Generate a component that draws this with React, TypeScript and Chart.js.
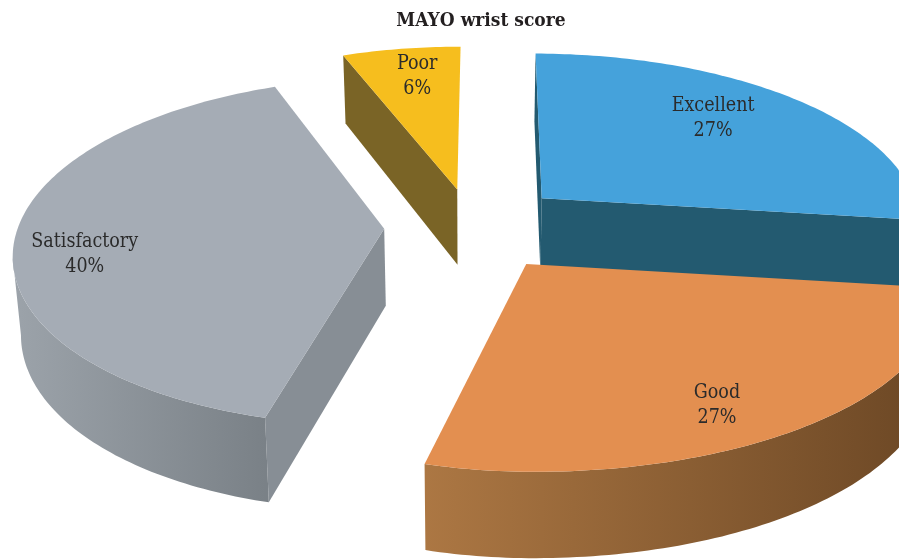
import React, { useEffect, useRef } from "react";
import { Chart, registerables } from "chart.js";

Chart.register(...registerables);

// Wrist score distribution, in percent
const categories = ["Excellent", "Good", "Satisfactory", "Poor"];
const shares = [27, 27, 40, 6];
const topColors = ["#45A2DB", "#E38F50", "#A5ACB5", "#F6BE1E"];
const wallColors = ["#235A70", "#7A5229", "#878E95", "#7A6426"];
const rimColorsLeft = ["#235A70", "#AC7743", "#9CA3AA", "#7A6426"];
const rimColorsRight = ["#235A70", "#6A4624", "#7A8187", "#7A6426"];
const explodeOffsets = [42, 42, 39, 37];
const eastStretch = [1.04, 1.09, 1, 1];
const labelReach = [0.74, 0.84, 0.81, 0.78];
const labelSweep = [0.46, 0.52, 0.45, 0.55];

const serifStack = "'DejaVu Serif Condensed', 'DejaVu Serif', serif";

// Homography of the pie plane: the far side of the disc shrinks, the near side grows.
const VIEW = { scale: 366, squash: 0.465, perspective: 0.13, depth: 77, depthFalloff: 0.1, shrink: 0.982, panX: -9 };

type Pt = { x: number; y: number };

const tiltedPie = {
  id: "tiltedPie",
  beforeDatasetDraw(chart: any) {
    const ctx: CanvasRenderingContext2D = chart.ctx;
    const arcs = chart.getDatasetMeta(0).data as any[];
    if (!arcs.length) return false;
    const cx = arcs[0].x + VIEW.panX;
    const cy = arcs[0].y;

    const top = (u: number, v: number): Pt => {
      const w = 1 + VIEW.perspective * v;
      return { x: cx + (VIEW.scale * u) / w, y: cy - (VIEW.scale * VIEW.squash * v) / w };
    };
    const bottom = (u: number, v: number): Pt => {
      const p = top(u, v);
      return {
        x: cx + (p.x - cx) * VIEW.shrink,
        y: p.y + VIEW.depth * (1 - VIEW.depthFalloff * v),
      };
    };

    const slices = arcs.map((arc, index) => {
      const R = arc.outerRadius;
      const span = arc.endAngle - arc.startAngle;
      const mid = arc.startAngle + span / 2;
      const shift = (arc.options.offset || 0) / R;
      const ax = Math.cos(mid) * shift;
      const ay = -Math.sin(mid) * shift;
      const steps = Math.max(24, Math.round((span * 180) / Math.PI));
      const rim: [number, number][] = [];
      for (let i = 0; i <= steps; i++) {
        const a = arc.startAngle + (span * i) / steps;
        const c = Math.cos(a);
        rim.push([ax + c * (c > 0 ? eastStretch[index] : 1), ay - Math.sin(a)]);
      }
      return { index, arc, ax, ay, span, rim };
    });

    const trace = (pts: Pt[]) => {
      ctx.beginPath();
      pts.forEach((p, i) => (i ? ctx.lineTo(p.x, p.y) : ctx.moveTo(p.x, p.y)));
      ctx.closePath();
    };

    // Paint from the far slice to the near one
    const order = [...slices].sort((a, b) => top(a.ax, a.ay).y - top(b.ax, b.ay).y);
    ctx.save();
    for (const s of order) {
      const first = s.rim[0];
      const last = s.rim[s.rim.length - 1];
      const wall = (p: [number, number], q: [number, number]) => {
        const a = top(p[0], p[1]);
        const b = top(q[0], q[1]);
        // The traversal runs clockwise on screen, so an edge heading left faces the viewer;
        // walls seen almost edge-on are skipped
        if (b.x >= a.x - 4) return;
        ctx.fillStyle = wallColors[s.index];
        trace([a, b, bottom(q[0], q[1]), bottom(p[0], p[1])]);
        ctx.fill();
      };
      wall([s.ax, s.ay], first);
      wall(last, [s.ax, s.ay]);

      // Visible stretch of the outer rim
      const upper: Pt[] = [];
      const lower: Pt[] = [];
      for (let i = 0; i < s.rim.length - 1; i++) {
        const a = top(s.rim[i][0], s.rim[i][1]);
        const b = top(s.rim[i + 1][0], s.rim[i + 1][1]);
        if (b.x < a.x) {
          if (!upper.length) {
            upper.push(a);
            lower.push(bottom(s.rim[i][0], s.rim[i][1]));
          }
          upper.push(b);
          lower.push(bottom(s.rim[i + 1][0], s.rim[i + 1][1]));
        }
      }
      if (upper.length) {
        const xs = upper.map((p) => p.x);
        const gradient = ctx.createLinearGradient(Math.min(...xs), 0, Math.max(...xs), 0);
        gradient.addColorStop(0, rimColorsLeft[s.index]);
        gradient.addColorStop(1, rimColorsRight[s.index]);
        ctx.fillStyle = gradient;
        trace([...upper, ...lower.reverse()]);
        ctx.fill();
      }

      // Upper face of the slice
      ctx.fillStyle = s.arc.options.backgroundColor;
      trace([top(s.ax, s.ay), ...s.rim.map(([u, v]) => top(u, v))]);
      ctx.fill();
    }

    // Category name and share, centred on each slice
    ctx.fillStyle = "#2B2B2B";
    ctx.font = `19.5px ${serifStack}`;
    ctx.textAlign = "center";
    ctx.textBaseline = "middle";
    for (const s of slices) {
      const reach = labelReach[s.index];
      const angle = s.arc.startAngle + s.span * labelSweep[s.index];
      const p = top(s.ax + Math.cos(angle) * reach, s.ay - Math.sin(angle) * reach);
      ctx.fillText(categories[s.index], p.x, p.y - 12.5);
      ctx.fillText(`${shares[s.index]}%`, p.x, p.y + 12.5);
    }
    ctx.restore();
    return false;
  },
};

export default function App() {
  const ref = useRef<HTMLCanvasElement>(null);
  useEffect(() => {
    const chart = new Chart(ref.current!, {
      type: "pie",
      data: {
        labels: categories,
        datasets: [
          {
            data: shares,
            backgroundColor: topColors,
            borderWidth: 0,
            offset: explodeOffsets,
          },
        ],
      },
      options: {
        responsive: false,
        animation: false,
        rotation: 0.3,
        layout: { padding: { left: 63, bottom: 150 } },
        plugins: {
          legend: { display: false },
          tooltip: { enabled: false },
          title: {
            display: true,
            text: "MAYO wrist score",
            color: "#231F20",
            font: { family: serifStack, size: 19, weight: "bold" },
            padding: { top: 10, bottom: 10 },
          },
        },
      },
      plugins: [tiltedPie],
    } as any);
    return () => chart.destroy();
  }, []);
  return (
    <canvas
      ref={ref}
      width={899}
      height={560}
      style={{ position: "absolute", left: 0, top: 0, display: "block", background: "#FFFFFF" }}
    />
  );
}
